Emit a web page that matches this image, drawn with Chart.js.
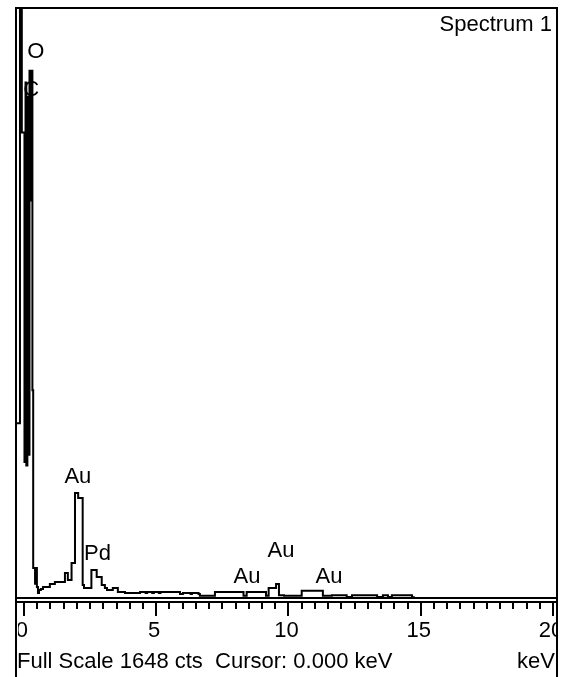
<!DOCTYPE html>
<html>
<head>
<meta charset="utf-8">
<script src="https://cdn.jsdelivr.net/npm/chart.js@4/dist/chart.umd.min.js"></script>
<style>
  body { margin: 0; background: #fff; }
  canvas { display: block; }
</style>
</head>
<body>
<canvas id="spectrum" width="561" height="677"></canvas>
<script>
// Spektrum - začátky kanálů (keV) a počty (cts)
const energy = [-0.30, -0.15, -0.08, 0.02, 0.06, 0.09, 0.13, 0.17, 0.21, 0.25, 0.28, 0.32, 0.35,
  0.42, 0.45, 0.49, 0.53, 0.57, 0.64, 0.72, 0.98, 1.17, 1.55, 1.66, 1.80, 1.93, 2.05, 2.22, 2.27,
  2.55, 2.75, 2.94, 3.06, 3.14, 3.36, 3.55, 3.82, 4.39, 4.60, 4.66, 4.85, 4.91, 5.10, 5.16, 5.90,
  6.01, 6.30, 6.35, 6.60, 6.65, 7.22, 8.30, 8.42, 9.15, 9.25, 9.53, 9.64, 9.83, 10.50, 11.30,
  11.64, 12.20, 12.40, 13.35, 13.57, 13.76, 13.91, 14.67, 14.74, 15.20, 20.15];
const counts = [0, 488, 2400, 1300, 380, 1440, 370, 1400, 400, 1473, 1110, 1473, 580,
  84, 40, 84, 31, 14, 22, 25, 31, 39, 45, 70, 50, 98, 293, 279, 36,
  28, 78, 59, 36, 28, 22, 28, 17, 14, 17, 14, 17, 14, 17, 14, 17,
  11, 14, 11, 14, 11, 6, 17, 6, 17, 6, 28, 39, 8, 6, 20,
  6, 8, 3, 8, 3, 8, 3, 8, 2, 0, 0];

// Osa x
const majorTicks = [0, 5, 10, 15, 20];
const minorTicks = [0, 0.5, 1, 1.5, 2, 2.5, 3, 3.5, 4, 4.5, 5, 5.5, 6, 6.5, 7, 7.5, 8, 8.5, 9, 9.5,
  10, 10.5, 11, 11.5, 12, 12.5, 13, 13.5, 14, 14.5, 15, 15.5, 16, 16.5, 17, 17.5, 18, 18.5, 19, 19.5, 20];
const fullScale = 1648;

// Popisky píků: prvek, energie, výška
const peakNames = ['O', 'C', 'Au', 'Pd', 'Au', 'Au', 'Au'];
const peakEnergy = [0.45, 0.27, 2.04, 2.78, 9.72, 8.43, 11.53];
const peakLevel = [1508, 1402, 321, 106, 114, 42, 42];

const FONT = '22px "Liberation Sans", Arial, sans-serif';

const frame = {
    id: 'frame',
    afterDraw(chart) {
        const c = chart.ctx;
        const x = chart.scales.x, y = chart.scales.y;
        const a = chart.chartArea;
        c.save();
        c.fillStyle = '#000';
        // rámeček
        c.fillRect(a.left - 1, a.top - 1, a.right - a.left + 2, 2);
        c.fillRect(a.left - 1, a.top - 1, 2, chart.height - a.top + 1);
        c.fillRect(a.right - 1, a.top - 1, 2, chart.height - a.top + 1);
        c.fillRect(a.left - 1, a.bottom - 1, a.right - a.left + 2, 2);
        c.fillRect(a.left - 1, a.bottom + 3, a.right - a.left + 2, 2);
        // ticky
        minorTicks.forEach(v => {
            const px = Math.round(x.getPixelForValue(v));
            c.fillRect(px - 1, a.bottom + 4, 2, 7);
        });
        majorTicks.forEach(v => {
            const px = Math.round(x.getPixelForValue(v));
            c.fillRect(px - 1, a.bottom + 4, 2, 14);
        });
        c.font = FONT;
        c.textBaseline = 'alphabetic';
        // popisky osy, oříznuté rámečkem
        c.save();
        c.beginPath();
        c.rect(a.left + 2, a.bottom, a.right - a.left - 3, 60);
        c.clip();
        c.textAlign = 'center';
        majorTicks.forEach(v => {
            c.fillText(String(v), x.getPixelForValue(v) - 2, a.bottom + 39);
        });
        c.restore();
        c.textAlign = 'left';
        c.fillText('Full Scale ' + fullScale + ' cts  Cursor: 0.000 keV', a.left + 1, a.bottom + 70);
        c.textAlign = 'right';
        c.fillText('keV', a.right - 2, a.bottom + 70);
        c.fillText('Spectrum 1', a.right - 5, a.top + 23);
        // popisky píků
        c.textAlign = 'center';
        peakNames.forEach((n, i) => {
            c.fillText(n, x.getPixelForValue(peakEnergy[i]), y.getPixelForValue(peakLevel[i]));
        });
        c.restore();
    }
};

const ctx = document.getElementById('spectrum').getContext('2d');
const spectrumChart = new Chart(ctx, {
    type: 'line',
    data: {
        datasets: [{
            data: energy.map((e, i) => ({ x: e, y: counts[i] })),
            stepped: 'after',
            borderColor: '#000',
            borderWidth: 2,
            borderJoinStyle: 'miter',
            pointRadius: 0,
            fill: false
        }]
    },
    options: {
        responsive: false,
        animation: false,
        layout: { padding: { left: 16, right: 4, top: 8, bottom: 79 } },
        scales: {
            x: { type: 'linear', min: -0.30, max: 20.15, display: false },
            y: { min: 0, max: fullScale, display: false }
        },
        plugins: { legend: { display: false }, tooltip: { enabled: false } }
    },
    plugins: [frame]
});
</script>
</body>
</html>
